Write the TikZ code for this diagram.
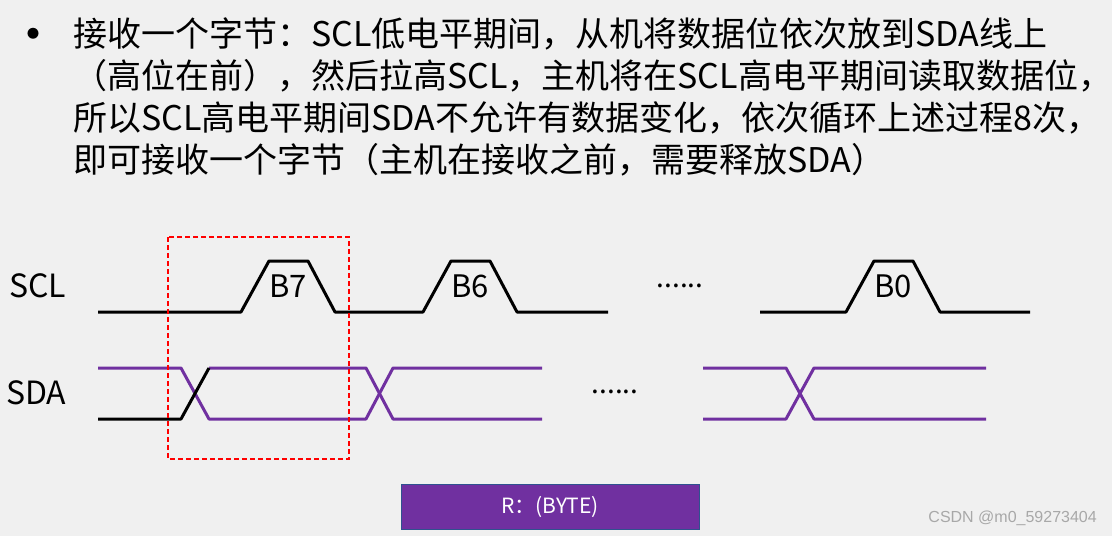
\documentclass[tikz,border=0pt]{standalone}
\usepackage{fontspec}
\setmainfont{Noto Sans CJK SC}
\newfontfamily\wmfont{Liberation Sans}
\definecolor{bg}{HTML}{F0F0F0}
\definecolor{sdapurple}{HTML}{7030A0}
\definecolor{boxedge}{HTML}{2F528F}
\definecolor{wmgray}{HTML}{A8A8A8}
\tikzset{
  sig/.style={line width=3pt, line join=round},
  scl/.style={sig, black},
  sda/.style={sig, sdapurple},
  txt/.style={font=\fontsize{34}{42}\selectfont, inner sep=0pt},
  lbl/.style={font=\fontsize{32}{32}\selectfont, inner sep=0pt},
  bitlbl/.style={font=\fontsize{31}{31}\selectfont, inner sep=0pt},
  dots/.style={font=\fontsize{28}{28}\selectfont, inner sep=0pt, anchor=base},
}
\begin{document}
\begin{tikzpicture}[x=1pt,y=-1pt]
\fill[bg] (0,0) rectangle (1112,536);
\useasboundingbox (0,0) rectangle (1112,536);

% ===== Text =====
\node[inner sep=0pt, font=\fontsize{52}{52}\selectfont] (bullet) at (34,41) {•};
\node[txt,anchor=base west] (line1) at (73,46) {接收一个字节：SCL低电平期间，从机将数据位依次放到SDA线上};
\node[txt,anchor=base west] (line2) at (73,88) {（高位在前），然后拉高SCL，主机将在SCL高电平期间读取数据位，};
\node[txt,anchor=base west] (line3) at (73,130) {所以SCL高电平期间SDA不允许有数据变化，依次循环上述过程8次，};
\node[txt,anchor=base west] (line4) at (73,172) {即可接收一个字节（主机在接收之前，需要释放SDA）};

% ===== SCL =====
\node[lbl,anchor=west] (scl) at (9,286) {SCL};
\draw[scl] (98,312) -- (241,312) -- ++(28,-51) -- ++(39,0) -- ++(27,51)
  -- (423,312) -- ++(28,-51) -- ++(39,0) -- ++(27,51) -- (608,312);
\draw[scl] (760,312) -- (846,312) -- ++(28,-51) -- ++(39,0) -- ++(27,51) -- (1030,312);
\foreach \x/\b in {241/B7,423/B6,846/B0} {
    \node[bitlbl] (\b) at (\x+47,286) {\b};
}
\node[dots] (scldots) at (680,287) {......};

% ===== SDA =====
\node[lbl,anchor=west] (sda) at (6,393) {SDA};
\draw[sda] (98,368) -- (181,368) -- (209,419) -- (366,419) -- (393,368) -- (542,368);
\draw[sda] (209,368) -- (366,368) -- (393,419) -- (542,419);
\draw[scl] (98,419) -- (181,419) -- (209,368);
\draw[sda] (703,368) -- (786,368) -- (814,419) -- (986,419);
\draw[sda] (703,419) -- (786,419) -- (814,368) -- (986,368);
\node[dots] (sdadots) at (615,393) {......};

% ===== Khung =====
\draw[red, line width=1.3pt, dash pattern=on 5pt off 3pt] (168,237) rectangle (349,459);
\node[draw=boxedge, fill=sdapurple, line width=1pt, minimum width=298pt,
      minimum height=45pt, text=white, font=\fontsize{21}{21}\selectfont]
      (rbyte) at (550,506.5) {R：(BYTE)};

\node[anchor=east, inner sep=0pt, text=wmgray, font=\wmfont\fontsize{16}{16}\selectfont]
      (mark) at (1097,518) {CSDN @m0\_59273404};

\end{tikzpicture}
\end{document}
